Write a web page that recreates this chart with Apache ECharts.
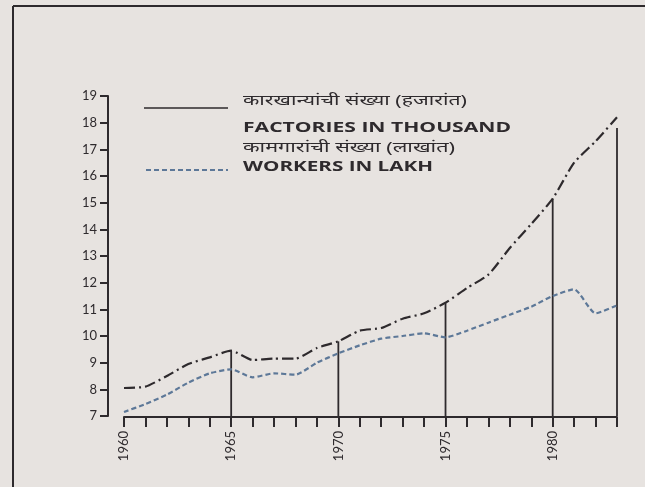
<!DOCTYPE html>
<html><head><meta charset="utf-8">
<script src="https://cdn.jsdelivr.net/npm/echarts@6/dist/echarts.min.js"></script>
<style>html,body{margin:0;padding:0;background:#e7e3e0}#c{width:645px;height:487px}</style>
</head><body><div id="c"></div>
<script>
const years = [1960,1961,1962,1963,1964,1965,1966,1967,1968,1969,1970,1971,1972,1973,1974,1975,1976,1977,1978,1979,1980,1981,1982,1983];
const factories = [8.05,8.1,8.5,8.95,9.2,9.45,9.1,9.15,9.15,9.55,9.8,10.2,10.3,10.65,10.85,11.25,11.8,12.3,13.3,14.2,15.15,16.5,17.3,18.2];
const workers = [7.15,7.45,7.8,8.25,8.6,8.75,8.45,8.6,8.55,9.0,9.35,9.65,9.9,10.0,10.1,9.95,10.2,10.5,10.8,11.1,11.5,11.75,10.85,11.15];
const dropYears = [1965,1970,1975,1980,1983];
const dropTops = [9.45,9.8,11.25,15.15,17.8];
const yTicks = [7,8,9,10,11,12,13,14,15,16,17,18,19];
const xLabelYears = [1960,1965,1970,1975,1980];
const legendTexts = ['कारखान्यांची संख्या (हजारांत)','FACTORIES IN THOUSAND','कामगारांची संख्या (लाखांत)','WORKERS IN LAKH'];

const ink = '#2e2a2d';
const blue = '#5d7898';
const cv = document.createElement('canvas').getContext('2d');
function stretchedText(txt, font, x, yMid, targetW, color){
  cv.font = font;
  const w = cv.measureText(txt).width || targetW;
  return {type:'text', x:x, y:yMid, scaleX: targetW / w, z:10,
    style:{text:txt, font:font, fill:color, x:0, y:0, verticalAlign:'middle', textVerticalAlign:'middle'}};
}
const chart = echarts.init(document.getElementById('c'));
const series = [
  {type:'line', data: years.map((y,i)=>[y,factories[i]]), symbol:'none', smooth:0.2,
   lineStyle:{color:ink,width:2.2,type:[11,4,2,4]}, z:3},
  {type:'line', data: years.map((y,i)=>[y,workers[i]]), symbol:'none', smooth:0.2,
   lineStyle:{color:blue,width:2.2,type:[5,3]}, z:3}
];
dropYears.forEach((y,i)=>{
  series.push({type:'line', data:[[y,7],[y,dropTops[i]]], symbol:'none', lineStyle:{color:ink,width:1.8}, z:2});
});
const devFont = '15px "Noto Sans", sans-serif';
const latFont = 'bold 14px "Open Sans", sans-serif';
chart.setOption({
  backgroundColor:'#e7e3e0',
  animation:false,
  grid:{left:124,right:28,top:96,bottom:71},
  xAxis:{type:'value',min:1960,max:1983,interval:1,offset:1,
    axisLine:{show:true,lineStyle:{color:ink,width:2}},
    axisTick:{show:true,length:10,lineStyle:{color:ink,width:2}},
    splitLine:{show:false},
    axisLabel:{rotate:90,margin:14,fontSize:13,color:ink,fontFamily:'Lato',
      formatter:v=> xLabelYears.includes(v)? String(v):''}},
  yAxis:{type:'value',min:yTicks[0],max:yTicks[yTicks.length-1],interval:1,offset:16,
    axisLine:{show:true,lineStyle:{color:ink,width:2}},
    axisTick:{show:true,length:8,lineStyle:{color:ink,width:2}},
    splitLine:{show:false},
    axisLabel:{margin:11,fontSize:13,color:ink,fontFamily:'Lato'}},
  series:series,
  graphic:[
    {type:'line',shape:{x1:13,y1:6,x2:645,y2:6},style:{stroke:ink,lineWidth:2}},
    {type:'line',shape:{x1:13,y1:6,x2:13,y2:487},style:{stroke:ink,lineWidth:2}},
    {type:'line',shape:{x1:144,y1:108,x2:228,y2:108},style:{stroke:ink,lineWidth:1.5}},
    {type:'line',shape:{x1:146,y1:170,x2:228,y2:170},style:{stroke:blue,lineWidth:2,lineDash:[5,3]}},
    stretchedText(legendTexts[0], devFont, 243, 101, 224, ink),
    stretchedText(legendTexts[1], latFont, 243, 128, 268, ink),
    stretchedText(legendTexts[2], devFont, 243, 148, 212, ink),
    stretchedText(legendTexts[3], latFont, 243, 167, 190, ink)
  ]
});
</script></body></html>
